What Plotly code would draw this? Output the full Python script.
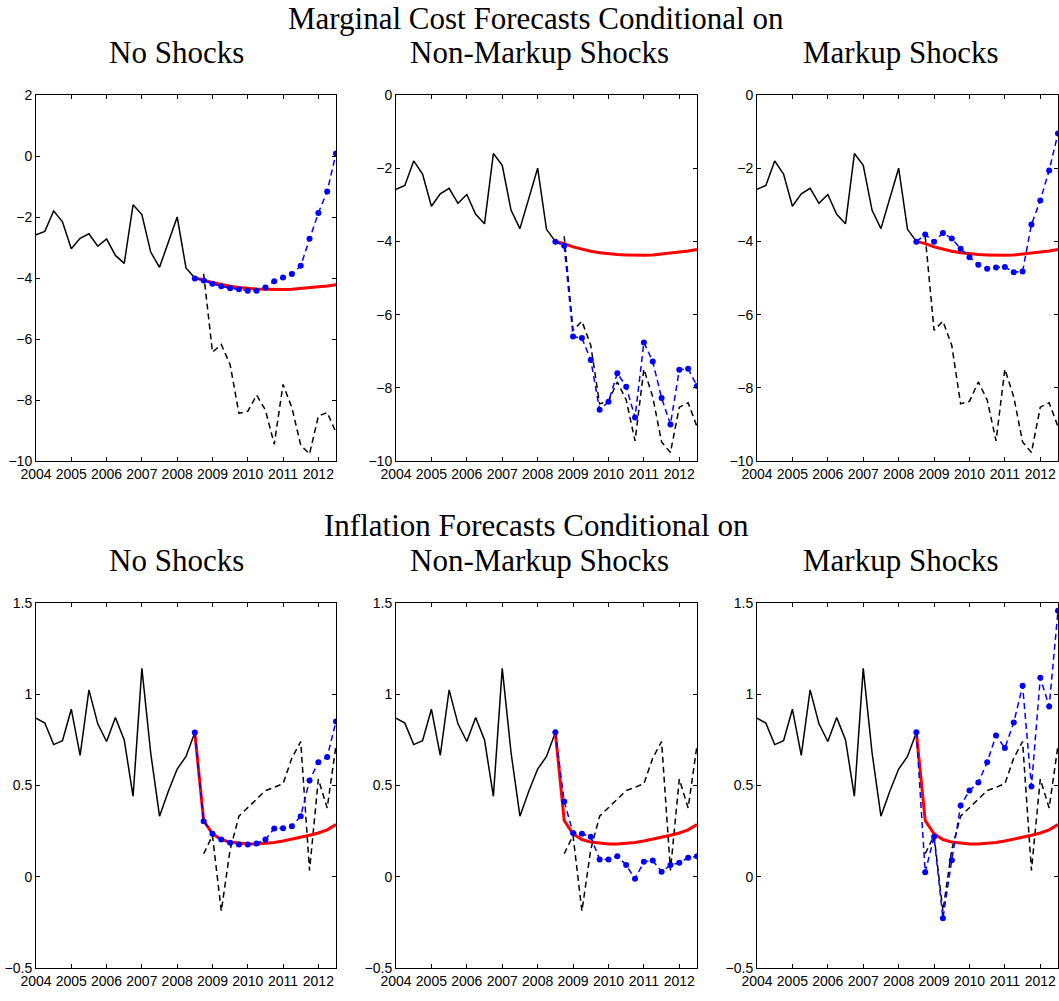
import plotly.graph_objects as go
import numpy as np

# ---------------- data ----------------
hist_start = 2004.0
fc_start = 2008.5
act_start = 2008.75

mc_hist = [-2.58, -2.47, -1.80, -2.16, -3.04, -2.70, -2.55, -2.96, -2.72, -3.26,
           -3.52, -1.60, -1.92, -3.15, -3.65, -2.86, -2.00, -3.67, -4.00]
mc_actual = [-3.86, -6.43, -6.18, -6.84, -8.44, -8.37, -7.84, -8.33, -9.45, -7.49,
             -8.25, -9.48, -9.77, -8.53, -8.41, -9.06]
mc_uncond = [-4.00, -4.06, -4.15, -4.22, -4.27, -4.31, -4.34, -4.36, -4.37, -4.38,
             -4.38, -4.37, -4.35, -4.32, -4.29, -4.26, -4.22]
mc_noshock = [-4.02, -4.08, -4.19, -4.27, -4.34, -4.37, -4.42, -4.42, -4.31, -4.11,
              -3.98, -3.87, -3.60, -2.71, -1.87, -1.16, 0.08]
mc_nonmarkup = [-4.01, -4.12, -6.60, -6.64, -7.24, -8.60, -8.38, -7.60, -7.97, -8.81,
                -6.76, -7.28, -8.28, -9.00, -7.51, -7.48, -7.95]
mc_markup = [-4.01, -3.81, -4.01, -3.77, -3.92, -4.20, -4.43, -4.64, -4.75, -4.71,
             -4.70, -4.84, -4.82, -3.54, -2.88, -2.06, -1.05]

inf_hist = [0.869, 0.842, 0.724, 0.745, 0.918, 0.665, 1.024, 0.838, 0.741, 0.872,
            0.750, 0.441, 1.142, 0.678, 0.332, 0.468, 0.590, 0.659, 0.790]
inf_actual = [0.126, 0.226, -0.188, 0.149, 0.332, 0.377, 0.426, 0.472, 0.490, 0.510,
              0.650, 0.741, 0.035, 0.535, 0.377, 0.720]
inf_uncond = [0.790, 0.308, 0.235, 0.204, 0.190, 0.183, 0.179, 0.179, 0.182, 0.188,
              0.196, 0.205, 0.215, 0.227, 0.240, 0.257, 0.286]
inf_noshock = [0.790, 0.304, 0.235, 0.204, 0.186, 0.177, 0.177, 0.182, 0.204, 0.264,
               0.266, 0.277, 0.332, 0.528, 0.628, 0.656, 0.851]
inf_nonmarkup = [0.792, 0.413, 0.240, 0.235, 0.219, 0.095, 0.095, 0.113, 0.064, -0.011,
                 0.082, 0.089, 0.027, 0.064, 0.077, 0.104, 0.113]
inf_markup = [0.792, 0.025, 0.219, -0.228, 0.091, 0.390, 0.472, 0.517, 0.627, 0.774,
              0.705, 0.845, 1.046, 0.495, 1.091, 0.933, 1.457]

year_ticks = [2004, 2005, 2006, 2007, 2008, 2009, 2010, 2011, 2012]
top_titles = ["No Shocks", "Non-Markup Shocks", "Markup Shocks"]
row_titles = ["Marginal Cost Forecasts Conditional on", "Inflation Forecasts Conditional on"]

# ---------------- layout helpers ----------------
W, H = 1059, 1001
x_hist = hist_start + 0.25 * np.arange(len(mc_hist))
x_fc = fc_start + 0.25 * np.arange(len(mc_uncond))
x_act = act_start + 0.25 * np.arange(len(mc_actual))

panels_x = [(36, 336), (396, 697), (757, 1058)]
rows_y = [(95, 461), (603, 968)]

fig = go.Figure()

tick_font = dict(family="Liberation Sans, Arial, sans-serif", size=14, color="black")

rows = [
    dict(hist=mc_hist, actual=mc_actual, uncond=mc_uncond,
         cond=[mc_noshock, mc_nonmarkup, mc_markup],
         ranges=[[-10, 2], [-10, 0], [-10, 0]], dtick=2),
    dict(hist=inf_hist, actual=inf_actual, uncond=inf_uncond,
         cond=[inf_noshock, inf_nonmarkup, inf_markup],
         ranges=[[-0.5, 1.5], [-0.5, 1.5], [-0.5, 1.5]], dtick=0.5),
]

k = 0
for r, row in enumerate(rows):
    y0, y1 = rows_y[r]
    for c in range(3):
        k += 1
        xa = "x" if k == 1 else f"x{k}"
        ya = "y" if k == 1 else f"y{k}"
        x0, x1 = panels_x[c]
        fig.add_trace(go.Scatter(x=x_hist, y=row["hist"], mode="lines",
                                 line=dict(color="black", width=1.5),
                                 xaxis=xa, yaxis=ya, showlegend=False))
        fig.add_trace(go.Scatter(x=x_act, y=row["actual"], mode="lines",
                                 line=dict(color="black", width=1.5, dash="6px,4px"),
                                 xaxis=xa, yaxis=ya, showlegend=False))
        fig.add_trace(go.Scatter(x=x_fc, y=row["uncond"], mode="lines",
                                 line=dict(color="#ff0000", width=3),
                                 xaxis=xa, yaxis=ya, showlegend=False))
        fig.add_trace(go.Scatter(x=x_fc, y=row["cond"][c], mode="lines+markers",
                                 line=dict(color="#0000ff", width=1.5, dash="6px,4px"),
                                 marker=dict(color="#0000ff", size=6),
                                 xaxis=xa, yaxis=ya, showlegend=False))
        axis_common = dict(showgrid=False, zeroline=False, showline=True,
                           linecolor="black", linewidth=1, mirror="ticks",
                           ticks="inside", ticklen=4, tickcolor="black", tickwidth=1,
                           tickfont=tick_font, automargin=False)
        fig.layout[f"xaxis{'' if k == 1 else k}"] = dict(
            domain=[x0 / W, x1 / W], anchor=ya, range=[2004, 2012.5],
            tickvals=year_ticks, ticktext=[str(t) for t in year_ticks],
            tickangle=0, **axis_common)
        fig.layout[f"yaxis{'' if k == 1 else k}"] = dict(
            domain=[1 - y1 / H, 1 - y0 / H], anchor=xa, range=row["ranges"][c],
            dtick=row["dtick"], tick0=0, **axis_common)

title_font = dict(family="Liberation Serif, DejaVu Serif, serif", size=31, color="black")
title_centers = [176, 539, 900]
for r, (ty1, ty2) in enumerate([(18, 52), (525, 560)]):
    fig.add_annotation(x=536 / W, y=1 - ty1 / H, xref="paper", yref="paper",
                       text=row_titles[r], showarrow=False, font=title_font,
                       xanchor="center", yanchor="middle")
    for c in range(3):
        fig.add_annotation(x=title_centers[c] / W, y=1 - ty2 / H, xref="paper", yref="paper",
                           text=top_titles[c], showarrow=False, font=title_font,
                           xanchor="center", yanchor="middle")

fig.update_layout(width=W, height=H, margin=dict(l=0, r=0, t=0, b=0),
                  paper_bgcolor="white", plot_bgcolor="white")

fig.write_html("out.html", config={"displayModeBar": False},
               post_script="document.body.style.margin='0';document.body.style.overflow='hidden';")
